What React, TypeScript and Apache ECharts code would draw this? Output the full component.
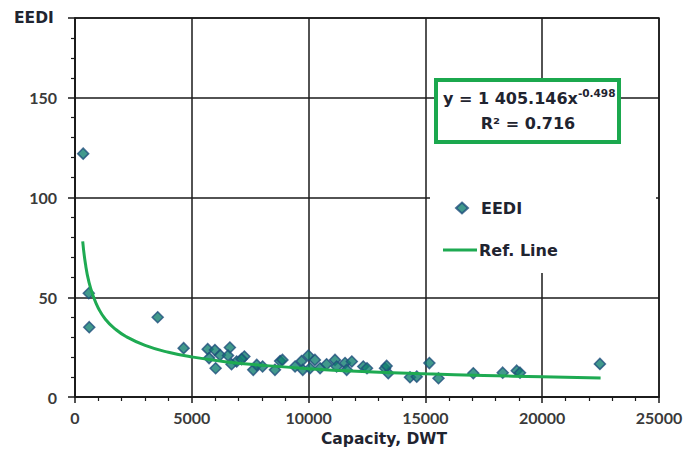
import React, { useEffect, useRef } from "react";
import * as echarts from "echarts";

const xTicks = [0, 5000, 10000, 15000, 20000, 25000];
const yTicks = [0, 50, 100, 150];

const eediPoints: [number, number][] = [
  [350, 122], [590, 52], [610, 35], [3540, 40], [4650, 24.5],
  [5680, 24], [5990, 23.5], [6630, 24.8], [5740, 19.5], [6020, 14.4],
  [6210, 21], [6550, 20.8], [6920, 17.8], [7250, 20.3], [6700, 16.4],
  [7130, 19], [7630, 13.6], [7780, 16.1], [8030, 15.3], [8560, 13.6],
  [8780, 18], [8880, 18.6], [9420, 15.3], [9700, 18], [9750, 13.6],
  [9990, 20.8], [10270, 18.6], [10060, 14.4], [10490, 14.4], [10770, 16.4],
  [11130, 18.6], [11200, 15.3], [11560, 17], [11630, 13.6], [11850, 17.8],
  [12340, 15.3], [12500, 14.4], [13270, 14.4], [13410, 11.9], [13340, 15.6],
  [14340, 9.9], [14630, 10.2], [15170, 17], [15560, 9.4], [17050, 11.9],
  [18310, 12.2], [18910, 13.2], [19050, 12.2], [22470, 16.6],
];

const refLine: [number, number][] = [
  [330, 78], [450, 66.5], [600, 57.5], [800, 50], [1000, 44.5], [1300, 39],
  [1700, 34.3], [2200, 30.2], [3000, 25.9], [4000, 22.4], [5000, 20.1],
  [6500, 17.6], [8000, 15.9], [10000, 14.2], [12500, 12.7], [15000, 11.6],
  [17500, 10.8], [20000, 10.1], [22500, 9.5],
];

const equationText = "y = 1 405.146x";
const exponentText = "-0.498";
const r2Text = "R² = 0.716";

const FONT = "Lato, 'Open Sans', sans-serif";
const WIDE = "'DejaVu Sans', Verdana, sans-serif";
const TEXT_DARK = "#1f2430";
const LABEL = "#3a3a3a";
const GREEN = "#1eaa52";
const legendText = { fontSize: 16, fontWeight: "bold", color: TEXT_DARK, fontFamily: WIDE };

export default function App() {
  const ref = useRef<HTMLDivElement>(null);
  useEffect(() => {
    if (!ref.current) return;
    const chart = echarts.init(ref.current, undefined, { renderer: "svg" });
    chart.setOption({
      animation: false,
      backgroundColor: "#ffffff",
      textStyle: { fontFamily: FONT },
      grid: {
        left: 75,
        right: 39,
        top: 18,
        bottom: 55,
        show: true,
        borderColor: "#1a1a1a",
        borderWidth: 1.5,
        backgroundColor: "transparent",
      },
      xAxis: {
        type: "value",
        min: xTicks[0],
        max: xTicks[xTicks.length - 1],
        interval: 5000,
        axisLine: { show: true, onZero: false, lineStyle: { color: "#1a1a1a", width: 1.5 } },
        axisTick: { show: true, length: 6, lineStyle: { color: "#1a1a1a", width: 1.5 } },
        minorTick: { show: true, splitNumber: 5, length: 4, lineStyle: { color: "#1a1a1a", width: 1.2 } },
        splitLine: { show: true, lineStyle: { color: "#1a1a1a", width: 1.5 } },
        axisLabel: {
          margin: 12,
          fontSize: 16,
          fontWeight: "bold",
          color: LABEL,
          fontFamily: FONT,
          formatter: (v: number) => String(v),
        },
      },
      yAxis: {
        type: "value",
        min: 0,
        max: 190,
        interval: 50,
        axisLine: { show: true, onZero: false, lineStyle: { color: "#1a1a1a", width: 1.5 } },
        axisTick: { show: true, length: 7, lineStyle: { color: "#1a1a1a", width: 1.5 } },
        minorTick: { show: true, splitNumber: 5, length: 4, lineStyle: { color: "#1a1a1a", width: 1.2 } },
        splitLine: { show: true, lineStyle: { color: "#1a1a1a", width: 1.5 } },
        axisLabel: {
          margin: 18,
          fontSize: 16,
          fontWeight: "bold",
          color: LABEL,
          fontFamily: FONT,
          formatter: (v: number) => (yTicks.includes(v) ? String(v) : ""),
        },
      },
      legend: [
        {
          orient: "vertical",
          left: 455,
          top: 200,
          padding: 0,
          itemWidth: 12,
          itemHeight: 11,
          textStyle: { ...legendText, padding: [0, 0, 0, 8] },
          data: [{ name: "EEDI", icon: "diamond" }],
        },
        {
          orient: "vertical",
          left: 443,
          top: 242,
          padding: 0,
          itemWidth: 34,
          itemHeight: 3,
          textStyle: { ...legendText, padding: [0, 0, 0, -3] },
          data: [{ name: "Ref. Line", icon: "rect", itemStyle: { color: GREEN } }],
        },
      ],
      graphic: [
        {
          type: "rect",
          z: 1,
          shape: { x: 430, y: 138, width: 226, height: 135 },
          style: { fill: "#ffffff" },
          silent: true,
        },
        {
          type: "rect",
          z: 10,
          shape: { x: 436, y: 80, width: 183, height: 62 },
          style: { fill: "#ffffff", stroke: "#1ba84e", lineWidth: 4 },
        },
        {
          type: "text",
          z: 11,
          x: 443,
          y: 98,
          style: {
            text: `{a|${equationText}}{b|${exponentText}}`,
            verticalAlign: "middle",
            rich: {
              a: { fontSize: 16, fontWeight: "bold", fill: TEXT_DARK, fontFamily: WIDE, lineHeight: 22 },
              b: { fontSize: 10.5, fontWeight: "bold", fill: TEXT_DARK, fontFamily: WIDE, verticalAlign: "top", lineHeight: 14 },
            },
          },
        },
        {
          type: "text",
          z: 11,
          x: 528,
          y: 123,
          style: {
            text: r2Text,
            align: "center",
            verticalAlign: "middle",
            fontSize: 16,
            fontWeight: "bold",
            fill: TEXT_DARK,
            fontFamily: WIDE,
          },
        },
        {
          type: "text",
          x: 14,
          y: 18,
          style: {
            text: "EEDI",
            verticalAlign: "middle",
            fontSize: 15.5,
            fontWeight: "bold",
            fill: TEXT_DARK,
            fontFamily: WIDE,
          },
        },
        {
          type: "text",
          x: 384,
          y: 439,
          style: {
            text: "Capacity, DWT",
            align: "center",
            verticalAlign: "middle",
            fontSize: 15.5,
            fontWeight: "bold",
            fill: TEXT_DARK,
            fontFamily: WIDE,
          },
        },
      ],
      series: [
        {
          name: "EEDI",
          type: "scatter",
          symbol: "diamond",
          symbolSize: 11,
          z: 3,
          itemStyle: { color: "#11806f", borderColor: "#1f4f7c", borderWidth: 1.5 },
          data: eediPoints,
        },
        {
          name: "Ref. Line",
          type: "line",
          smooth: true,
          symbol: "none",
          z: 4,
          lineStyle: { color: GREEN, width: 3 },
          itemStyle: { color: GREEN },
          data: refLine,
        },
      ],
    });
    return () => chart.dispose();
  }, []);
  return <div ref={ref} style={{ width: 698, height: 452, position: "absolute", left: 0, top: 0 }} />;
}
